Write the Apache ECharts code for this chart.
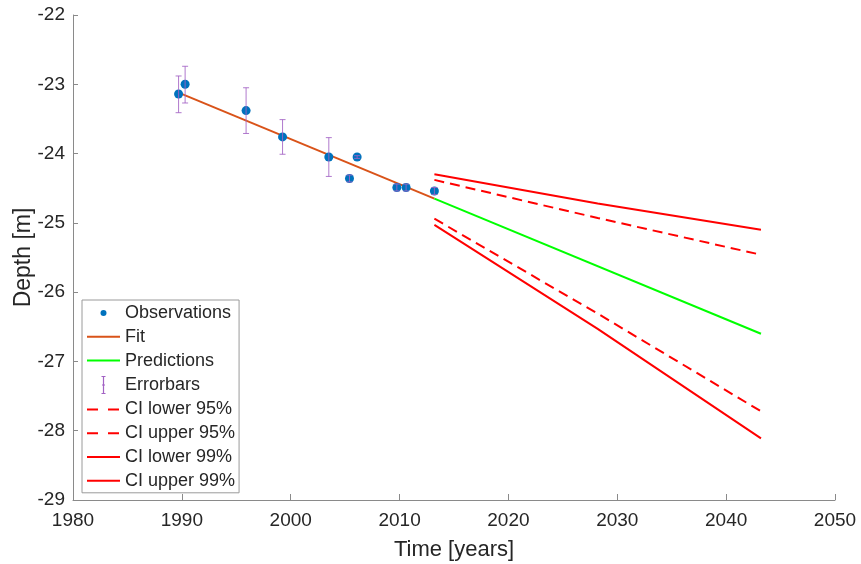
<!DOCTYPE html>
<html>
<head>
<meta charset="utf-8">
<script src="https://cdn.jsdelivr.net/npm/echarts@6/dist/echarts.min.js"></script>
<style>html,body{margin:0;padding:0;background:#fff;}#c{width:861px;height:564px;}</style>
</head>
<body>
<div id="c"></div>
<script>
// ---- data ----
const obsYears = [1989.7, 1990.3, 1995.9, 1999.25, 2003.5, 2005.4, 2006.1, 2009.75, 2010.6, 2013.2];
const obsDepth = [-23.14, -23.00, -23.38, -23.76, -24.05, -24.36, -24.05, -24.49, -24.49, -24.54];
const errUpper = [-22.88, -22.74, -23.05, -23.51, -23.77, -24.31, -24.03, -24.44, -24.44, -24.49];
const errLower = [-23.41, -23.27, -23.71, -24.01, -24.33, -24.41, -24.07, -24.54, -24.54, -24.59];

const fitYears = [1989.7, 2013.2];
const fitDepth = [-23.12, -24.65];
const predYears = [2013.2, 2043.2];
const predDepth = [-24.65, -26.60];

const ciYears = [2013.2, 2028.2, 2043.2];
const ciLower95 = [-24.94, -26.31, -27.72];
const ciUpper95 = [-24.38, -24.93, -25.46];
const ciLower99 = [-25.03, -26.53, -28.11];
const ciUpper99 = [-24.30, -24.72, -25.10];

const xTicks = [1980, 2050, 10];
const yTicks = [-29, -22, 1];

const zip = (xs, ys) => xs.map((x, i) => [x, ys[i]]);

const FONT = 'Liberation Sans, Arial, Helvetica, sans-serif';
const TXT = '#262626';
const AX = '#8a8a8a';
const PURPLE = '#A262C4';

const chart = echarts.init(document.getElementById('c'), null, {renderer: 'canvas'});

function lineSeries(name, xs, ys, color, type) {
  return {
    name, type: 'line', data: zip(xs, ys), symbol: 'none', silent: true,
    lineStyle: {color, width: 2, type: type || 'solid'}, itemStyle: {color},
    z: 3, animation: false
  };
}

const option = {
  animation: false,
  backgroundColor: '#fff',
  textStyle: {fontFamily: FONT},
  grid: {left: 73, right: 26, top: 15, bottom: 64, containLabel: false, outerBoundsMode: 'none'},
  xAxis: {
    type: 'value', min: xTicks[0], max: xTicks[1], interval: xTicks[2],
    name: 'Time [years]', nameLocation: 'middle', nameGap: 39, nameMoveOverlap: false,
    nameTextStyle: {fontSize: 22, color: TXT, fontFamily: FONT},
    axisLine: {show: true, onZero: false, lineStyle: {color: AX, width: 1}},
    axisTick: {show: true, inside: true, length: 6, lineStyle: {color: AX}},
    axisLabel: {fontSize: 19, color: TXT, margin: 11, fontFamily: FONT, formatter: v => String(v)},
    splitLine: {show: false}
  },
  yAxis: {
    type: 'value', min: yTicks[0], max: yTicks[1], interval: yTicks[2],
    name: 'Depth [m]', nameLocation: 'middle', nameGap: 38, nameMoveOverlap: false,
    nameTextStyle: {fontSize: 23, color: TXT, fontFamily: FONT},
    axisLine: {show: true, onZero: false, lineStyle: {color: AX, width: 1}},
    axisTick: {show: true, inside: true, length: 5, lineStyle: {color: AX}},
    axisLabel: {fontSize: 19, color: TXT, margin: 8, fontFamily: FONT, formatter: v => String(v)},
    splitLine: {show: false}
  },
  legend: {
    left: 82, top: 300, orient: 'vertical',
    padding: [4, 4, 3, 4], itemGap: 5.8, itemWidth: 33, itemHeight: 18, itemTextGap: 4,
    backgroundColor: '#fff', borderColor: '#9a9a9a', borderWidth: 1, borderRadius: 0,
    textStyle: {fontSize: 18, color: TXT, fontFamily: FONT},
    selectedMode: false,
    data: [
      {name: 'Observations', icon: 'path://M0,0M18,18M6,9A3,3,0,1,1,12,9A3,3,0,1,1,6,9Z',
        itemStyle: {color: '#0072BD', opacity: 1}},
      {name: 'Fit', itemStyle: {opacity: 0}},
      {name: 'Predictions', itemStyle: {opacity: 0}},
      {name: 'Errorbars', icon: 'path://M0,0M6,18M1,0.5L5,0.5M3,0.5L3,17.5M1,17.5L5,17.5M2.4,9A0.6,0.6,0,1,1,3.6,9A0.6,0.6,0,1,1,2.4,9Z',
        itemStyle: {color: PURPLE, borderColor: PURPLE, borderWidth: 1.2, opacity: 1}},
      {name: 'CI lower 95%', itemStyle: {opacity: 0}, lineStyle: {type: [11, 10]}},
      {name: 'CI upper 95%', itemStyle: {opacity: 0}, lineStyle: {type: [11, 10]}},
      {name: 'CI lower 99%', itemStyle: {opacity: 0}},
      {name: 'CI upper 99%', itemStyle: {opacity: 0}}
    ]
  },
  series: [
    {
      name: 'Observations', type: 'scatter', data: zip(obsYears, obsDepth),
      symbol: 'circle', symbolSize: 9, itemStyle: {color: '#0072BD', opacity: 1}, z: 5, silent: true
    },
    lineSeries('Fit', fitYears, fitDepth, '#D95319'),
    lineSeries('Predictions', predYears, predDepth, '#00FF00'),
    {
      name: 'Errorbars', type: 'custom', silent: true, z: 6,
      itemStyle: {color: PURPLE},
      data: obsYears.map((x, i) => [x, errLower[i], errUpper[i]]),
      encode: {x: 0, y: [1, 2]},
      renderItem: function (params, api) {
        const lo = api.coord([api.value(0), api.value(1)]);
        const hi = api.coord([api.value(0), api.value(2)]);
        const w = 3;
        const st = {stroke: PURPLE, lineWidth: 1, fill: null, opacity: 0.85};
        return {
          type: 'group',
          children: [
            {type: 'line', shape: {x1: lo[0], y1: lo[1], x2: hi[0], y2: hi[1]}, style: st},
            {type: 'line', shape: {x1: lo[0] - w, y1: lo[1], x2: lo[0] + w, y2: lo[1]}, style: st},
            {type: 'line', shape: {x1: hi[0] - w, y1: hi[1], x2: hi[0] + w, y2: hi[1]}, style: st}
          ]
        };
      }
    },
    lineSeries('CI lower 95%', ciYears, ciLower95, '#FF0000', [10, 6]),
    lineSeries('CI upper 95%', ciYears, ciUpper95, '#FF0000', [10, 6]),
    lineSeries('CI lower 99%', ciYears, ciLower99, '#FF0000'),
    lineSeries('CI upper 99%', ciYears, ciUpper99, '#FF0000')
  ]
};
chart.setOption(option);
</script>
</body>
</html>
